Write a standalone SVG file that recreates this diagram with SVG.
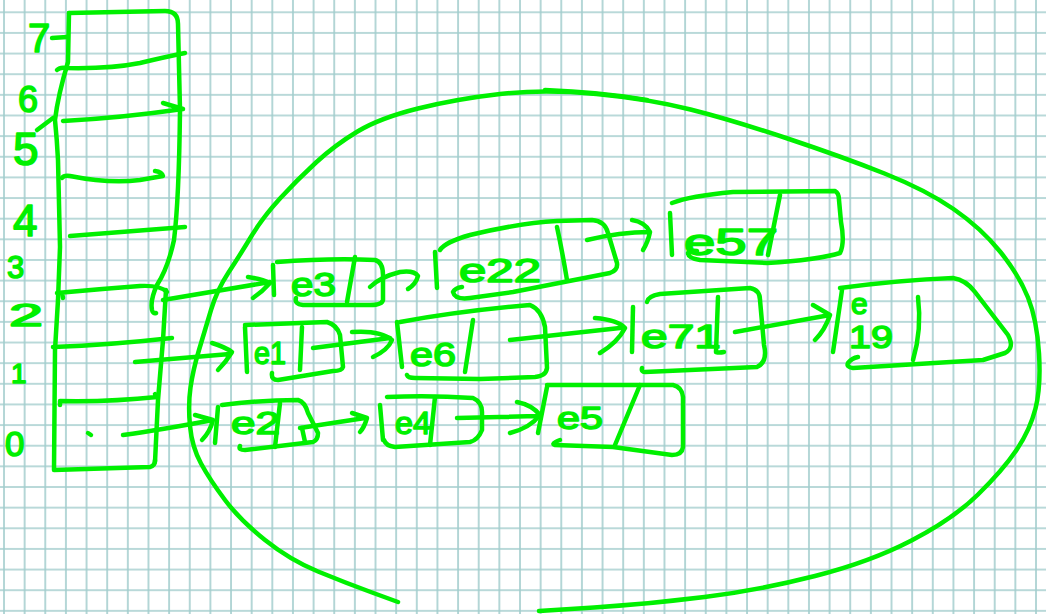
<svg xmlns="http://www.w3.org/2000/svg" width="1046" height="614" viewBox="0 0 1046 614">
<defs>
<pattern id="grid" x="3" y="11.3" width="20.64" height="20.64" patternUnits="userSpaceOnUse">
<path d="M1,0 V20.64 M0,1 H20.64" stroke="#a2cdcd" stroke-width="1.6" fill="none"/>
</pattern>
<style>
.ink{fill:none;stroke:#00f000;stroke-width:4.5;stroke-linecap:round;stroke-linejoin:round}
.lbl{fill:#00f000;stroke:#00f000;stroke-width:1.6;stroke-linejoin:round;font-family:"Liberation Sans",Arial,sans-serif;font-weight:normal}
</style>
</defs>
<rect width="1046" height="614" fill="#ffffff"/>
<rect width="1046" height="614" fill="url(#grid)"/>

<g id="table">
<path class="ink" d="M69,13 L165,11 Q178,11 178,24 L180,110 Q179,200 174,240 Q168,268 157,285 Q150,300 152,310 Q153,314 156,313"/>
<path class="ink" d="M69,13 L68,62 Q58,95 55,120 Q57,140 58,160 L60,247 L58,300 L55,350 L54,470 L150,467 Q155,466 155,460"/>
<path class="ink" d="M166,290 L163,340 L158,400 L155,462"/>
<path class="ink" d="M57,70 Q60,67 66,68 Q110,69 140,63 Q165,57 185,53"/>
<path class="ink" d="M63,121 Q120,118 183,109 M163,103 L183,109"/>
<path class="ink" d="M62,178 Q64,175 70,176 Q110,184 140,180 L163,176 Q162,172 155,171"/>
<path class="ink" d="M70,236 Q120,232 185,227"/>
<path class="ink" d="M57,293 Q100,289 140,286 Q160,285 167,292 M62,293 L63,298"/>
<path class="ink" d="M53,347 Q110,345 172,338"/>
<path class="ink" d="M60,405 L60,401 Q110,402 157,397 L155,394"/>
<path class="ink" d="M88,433 L91,435"/>
<path class="ink" d="M37,130 L53,118 M52,38 L67,37"/>
</g>

<g id="labels">
<text class="lbl" x="28" y="52" font-size="40">7</text>
<text class="lbl" x="18" y="112" font-size="36">6</text>
<text class="lbl" x="13" y="165" font-size="46">5</text>
<text class="lbl" x="13" y="236" font-size="44">4</text>
<text class="lbl" x="7" y="278" font-size="31">3</text>
<text class="lbl" x="9" y="326" font-size="32" textLength="34" lengthAdjust="spacingAndGlyphs">2</text>
<text class="lbl" x="11" y="383" font-size="28">1</text>
<text class="lbl" x="5" y="456" font-size="35">0</text>
</g>

<g id="boundary">
<path class="ink" d="M398,602 L372,592.5 Q346,583 318,571.5 Q290,560 265,540 Q240,520 225,500 Q210,480 201,463.5 Q192,447 190,426 Q188,405 190.5,387.5 Q193,370 199,350 Q205,330 211,310 Q217,290 228.5,272.5 Q240,255 251.5,236 Q263,217 280,198.5 Q297,180 316,162.5 Q335,145 357.5,131.5 Q380,118 418,108.5 Q456,99 500,94 Q544,89 596.5,94 Q649,99 690.5,109.5 Q732,120 787.5,138.5 Q843,157 884.5,173.5 Q926,190 953.5,209 Q981,228 1000,251.5 Q1019,275 1028,297.5 Q1037,320 1039,353.5 Q1041,387 1035.5,408.5 Q1030,430 1016.5,450 Q1003,470 978,494.5 Q953,519 911.5,540.5 Q870,562 815,576 Q760,590 704.5,597 Q649,604 594,607.5 L539,611"/>
<path class="ink" d="M545,90 Q600,92 647,100"/>
</g>

<g id="node-e3">
<path class="ink" d="M273,265 L274,295"/>
<path class="ink" d="M277,262 Q330,258 375,260 Q383,262 383,275 L383,300 Q382,305 370,305 L303,305 Q294,304 296,298"/>
<path class="ink" d="M355,257 L347,302"/>
<text class="lbl" x="291" y="296" font-size="34" textLength="45" lengthAdjust="spacingAndGlyphs">e3</text>
</g>
<g id="node-e22">
<path class="ink" d="M435,252 L437,288"/>
<path class="ink" d="M440,250 Q445,242 470,235 Q520,223 557,221 L592,220 Q605,221 608,233 L617,263 Q618,270 610,273 L513,292 L470,298 Q455,300 453,292 Q455,288 462,287"/>
<path class="ink" d="M557,227 Q562,250 567,280"/>
<text class="lbl" x="459" y="282" font-size="34" textLength="82" lengthAdjust="spacingAndGlyphs">e22</text>
</g>
<g id="node-e57">
<path class="ink" d="M670,213 L672,255"/>
<path class="ink" d="M672,203 Q690,196 733,192 L835,191 Q839,193 839,200 L841,222 Q845,243 840,253 Q817,260 767,263 L700,260 Q688,258 688,253 Q690,250 697,251"/>
<path class="ink" d="M780,195 L768,255"/>
<text class="lbl" x="684" y="255" font-size="36" textLength="94" lengthAdjust="spacingAndGlyphs">e57</text>
</g>
<g id="node-e1">
<path class="ink" d="M245,327 L247,372"/>
<path class="ink" d="M245,325 L327,322 Q337,325 340,335 L343,367 Q342,371 333,371 L278,380 Q271,380 272,373"/>
<path class="ink" d="M302,327 L300,370"/>
<text class="lbl" x="254" y="364" font-size="32" textLength="32" lengthAdjust="spacingAndGlyphs">e1</text>
</g>
<g id="node-e6">
<path class="ink" d="M397,322 L402,367"/>
<path class="ink" d="M400,322 Q460,311 530,305 Q542,310 545,327 L547,368 Q546,376 535,377 L480,379 L415,378 Q408,378 407,375"/>
<path class="ink" d="M473,320 L465,372"/>
<text class="lbl" x="410" y="366" font-size="34" textLength="46" lengthAdjust="spacingAndGlyphs">e6</text>
</g>
<g id="node-e71">
<path class="ink" d="M633,307 L632,352"/>
<path class="ink" d="M647,302 Q648,296 660,294 L750,288 Q760,290 760,300 L764,345 Q768,362 757,367 L645,372 Q641,372 642,368"/>
<path class="ink" d="M718,297 L716,352 Q719,353 724,352"/>
<text class="lbl" x="641" y="348" font-size="34" textLength="80" lengthAdjust="spacingAndGlyphs">e71</text>
</g>
<g id="node-e19">
<path class="ink" d="M842,290 L833,352"/>
<path class="ink" d="M840,288 Q900,280 953,278 Q966,280 975,292 L1008,335 Q1015,348 1005,353 L983,360 L853,368 Q846,367 848,363 Q852,358 858,357"/>
<path class="ink" d="M918,297 Q922,330 913,360"/>
<text class="lbl" x="851" y="314" font-size="30">e</text>
<text class="lbl" x="849" y="348" font-size="32" textLength="44" lengthAdjust="spacingAndGlyphs">19</text>
</g>
<g id="node-e2">
<path class="ink" d="M218,407 L215,443"/>
<path class="ink" d="M222,405 Q260,400 298,400 Q305,402 308,413 L318,433 Q318,440 313,442 L245,450 Q238,450 240,446"/>
<path class="ink" d="M280,403 L275,447"/>
<path class="ink" d="M302,428 L305,442"/>
<text class="lbl" x="231" y="434" font-size="32" textLength="49" lengthAdjust="spacingAndGlyphs">e2</text>
</g>
<g id="node-e4">
<path class="ink" d="M380,405 L383,440"/>
<path class="ink" d="M387,397 Q430,395 473,398 Q482,402 482,412 L482,430 Q478,440 470,442 L395,447 Q386,446 384,440"/>
<path class="ink" d="M435,397 L430,445"/>
<text class="lbl" x="395" y="434" font-size="32" textLength="36" lengthAdjust="spacingAndGlyphs">e4</text>
</g>
<g id="node-e5">
<path class="ink" d="M547,387 L538,433"/>
<path class="ink" d="M547,385 L673,385 Q682,387 683,397 L683,447 Q682,455 672,455 L613,447 L555,445 Q550,444 560,440"/>
<path class="ink" d="M640,385 L615,445"/>
<text class="lbl" x="557" y="429" font-size="32" textLength="46" lengthAdjust="spacingAndGlyphs">e5</text>
</g>

<g id="connectors">
<path class="ink" d="M163,300 L270,282 M248,277 Q262,279 270,283 Q262,292 253,298"/>
<path class="ink" d="M370,287 Q380,277 400,272 Q414,270 418,276 Q416,284 408,289"/>
<path class="ink" d="M587,240 Q620,232 650,232 M632,220 Q645,222 650,232 Q648,242 643,250"/>
<path class="ink" d="M135,362 L230,354 M212,343 Q225,347 232,352 Q226,362 218,370"/>
<path class="ink" d="M313,348 L390,338 M352,332 Q380,330 392,340 Q388,350 373,357"/>
<path class="ink" d="M510,340 L620,328 M595,318 Q618,320 625,328 Q618,342 600,353"/>
<path class="ink" d="M735,332 L830,315 M813,305 L830,315 Q825,330 815,340"/>
<path class="ink" d="M123,435 Q160,430 213,420 M195,415 L213,420 Q210,432 202,440"/>
<path class="ink" d="M300,428 L365,418 M352,413 L367,418 Q364,428 360,432"/>
<path class="ink" d="M457,418 L537,416 M517,402 Q532,405 540,415 Q530,428 510,433"/>
</g>
</svg>
